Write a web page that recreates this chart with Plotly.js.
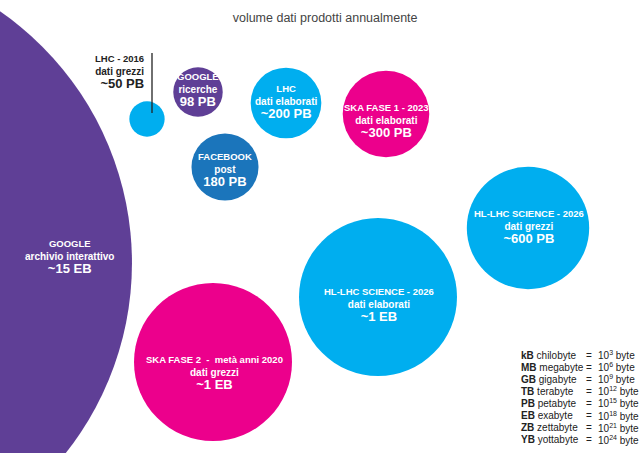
<!DOCTYPE html>
<html>
<head>
<meta charset="utf-8">
<script src="https://cdn.plot.ly/plotly-3.0.1.min.js"></script>
<style>html,body{margin:0;padding:0;background:#fff}#chart{width:640px;height:453px}</style>
</head>
<body>
<div id="chart"></div>
<script>
// ---- data ----
const names      = ['GOOGLE', 'LHC - 2016', 'GOOGLE', 'LHC', 'FACEBOOK', 'SKA FASE 1 - 2023', 'HL-LHC SCIENCE - 2026', 'HL-LHC SCIENCE - 2026', 'SKA FASE 2  -  metà anni 2020'];
const subtitles  = ['archivio interattivo', 'dati grezzi', 'ricerche', 'dati elaborati', 'post', 'dati elaborati', 'dati grezzi', 'dati elaborati', 'dati grezzi'];
const valueText  = ['~15 EB', '~50 PB', '98 PB', '~200 PB', '180 PB', '~300 PB', '~600 PB', '~1 EB', '~1 EB'];
const valuesPB   = [15000, 50, 98, 200, 180, 300, 600, 1000, 1000];
const groups     = ['google', 'lhc', 'google', 'lhc', 'facebook', 'ska', 'lhc', 'lhc', 'ska'];

const unitAbbr   = ['kB', 'MB', 'GB', 'TB', 'PB', 'EB', 'ZB', 'YB'];
const unitName   = ['chilobyte', 'megabyte', 'gigabyte', 'terabyte', 'petabyte', 'exabyte', 'zettabyte', 'yottabyte'];
const unitExp    = [3, 6, 9, 12, 15, 18, 21, 24];

// ---- layout (positions in pixel-like axis units) ----
const xPos   = [-174, 147, 198, 286, 225, 386, 528, 378, 213];
const yPos   = [263, 119, 92, 103, 167, 114, 228, 297, 362];
const labelX = [69, 146, 198, 286, 225, 386, 529, 379, 214];
const labelY = [257, 72, 90, 102, 170, 121, 227, 305, 373];

const groupColor = {google: '#5f3f96', lhc: '#00aeef', facebook: '#1b75bb', ska: '#ec008c'};
const FONT = "'Liberation Sans', Arial, sans-serif";

const trace = {
  type: 'scatter', mode: 'markers',
  x: xPos, y: yPos,
  marker: {
    size: valuesPB, sizemode: 'area', sizeref: 2 * 1000 / (158 * 158),
    color: groups.map(g => groupColor[g]), opacity: 1,
    line: {width: 0}
  },
  hoverinfo: 'skip', cliponaxis: true
};

const annotations = names.map((n, i) => {
  const outside = (i === 1);
  return {
    x: labelX[i], y: labelY[i], xref: 'x', yref: 'y',
    text: '<span style="font-size:9.5px"><b>' + n + '</b></span><br><b>' + subtitles[i] + '</b><br><span style="font-size:13px"><b>' + valueText[i] + '</b></span>',
    showarrow: false,
    xanchor: outside ? 'right' : 'center', yanchor: 'middle',
    align: outside ? 'right' : 'center',
    font: {family: FONT, size: 10, color: outside ? '#222222' : '#ffffff'}
  };
});

unitAbbr.forEach((a, i) => {
  const y = 355 + i * 12.1;
  annotations.push({x: 519, y: y, xref: 'x', yref: 'y', xanchor: 'left', yanchor: 'middle', showarrow: false,
    text: '<b>' + a + '</b> ' + unitName[i], font: {family: FONT, size: 10, color: '#222222'}});
  annotations.push({x: 584, y: y, xref: 'x', yref: 'y', xanchor: 'left', yanchor: 'middle', showarrow: false,
    text: '=', font: {family: FONT, size: 10, color: '#222222'}});
  annotations.push({x: 596, y: y, xref: 'x', yref: 'y', xanchor: 'left', yanchor: 'middle', showarrow: false,
    text: '10<sup>' + unitExp[i] + '</sup> byte', font: {family: FONT, size: 10, color: '#222222'}});
});

const layout = {
  width: 640, height: 453,
  margin: {l: 0, r: 0, t: 0, b: 0},
  paper_bgcolor: '#ffffff', plot_bgcolor: '#ffffff',
  title: {text: 'volume dati prodotti annualmente', x: 0.508, xanchor: 'center', y: 1 - 18 / 453, yref: 'container', yanchor: 'middle',
          font: {family: FONT, size: 12.5, color: '#444444'}},
  xaxis: {range: [0, 640], visible: false, fixedrange: true},
  yaxis: {range: [453, 0], visible: false, fixedrange: true},
  showlegend: false,
  shapes: [{type: 'line', xref: 'x', yref: 'y', x0: 152, x1: 152, y0: 53, y1: 113, line: {color: '#222222', width: 1.3}}],
  annotations: annotations
};

Plotly.newPlot('chart', [trace], layout, {displayModeBar: false, staticPlot: true});
</script>
</body>
</html>
